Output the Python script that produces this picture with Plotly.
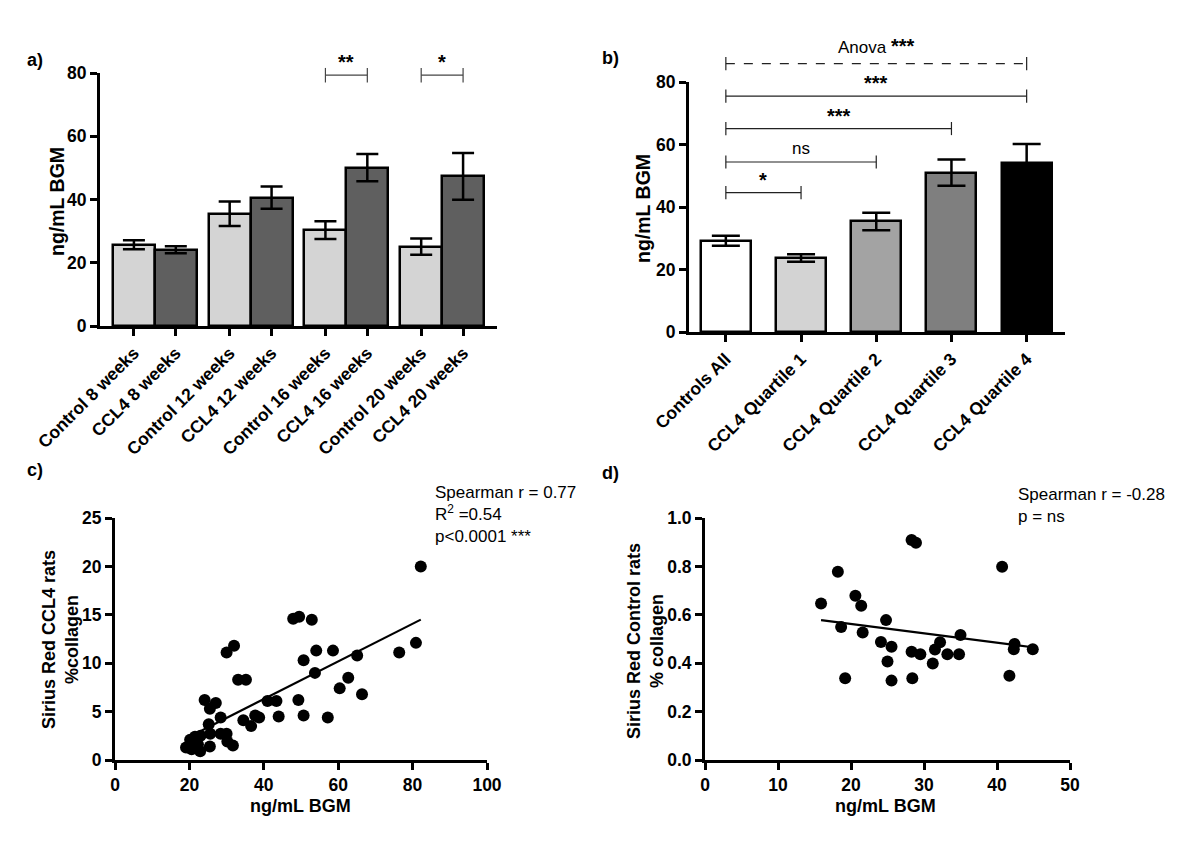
import plotly.graph_objects as go

# ---------------- data ----------------
# Panel a
a_labels = ["Control 8 weeks", "CCL4 8 weeks", "Control 12 weeks", "CCL4 12 weeks",
            "Control 16 weeks", "CCL4 16 weeks", "Control 20 weeks", "CCL4 20 weeks"]
a_means = [25.7, 24.1, 35.5, 40.6, 30.3, 50.1, 25.1, 47.3]
a_sem = [1.4, 1.1, 3.9, 3.5, 2.8, 4.3, 2.6, 7.4]
a_sig = [(4, 5, "**", 79.3), (6, 7, "*", 79.3)]

# Panel b
b_labels = ["Controls All", "CCL4 Quartile 1", "CCL4 Quartile 2", "CCL4 Quartile 3", "CCL4 Quartile 4"]
b_means = [29.2, 23.7, 35.4, 51.0, 54.2]
b_sem = [1.6, 1.2, 2.8, 4.2, 6.0]
b_sig = [(0, 1, "*", 44.6), (0, 2, "ns", 54.4), (0, 3, "***", 65.1), (0, 4, "***", 75.5)]
b_anova = (0, 4, "Anova ***", 85.9)

# Panel c (CCL4 rats)
c_x = [82.2, 80.9, 76.4, 65.1, 66.4, 62.7, 60.4, 58.6, 57.2, 54.1, 53.75, 52.9, 50.7, 50.7,
       49.5, 47.9, 49.3, 44.0, 43.4, 41.0, 38.75, 37.7, 36.6, 34.5, 35.2, 33.1, 32.0, 30.0,
       31.7, 30.2, 30.0, 28.4, 28.4, 27.1, 25.5, 24.1, 25.2, 25.6, 25.5, 23.0, 22.9, 21.7,
       21.1, 20.2, 19.1, 20.6, 21.5, 22.3]
c_y = [20.0, 12.1, 11.1, 10.8, 6.8, 8.5, 7.4, 11.3, 4.4, 11.3, 9.0, 14.5, 10.3, 4.6,
       14.8, 14.6, 6.2, 4.5, 6.1, 6.1, 4.4, 4.6, 3.5, 4.1, 8.3, 8.3, 11.8, 11.1,
       1.5, 1.9, 2.7, 2.7, 4.4, 5.9, 5.3, 6.2, 3.7, 2.7, 1.4, 2.5, 0.9, 1.4,
       1.9, 2.1, 1.3, 1.1, 2.4, 1.6]
c_fit_x = [19.5, 82.2]
c_fit_y = [2.3, 14.5]

# Panel d (Control rats)
d_x = [15.9, 18.2, 18.65, 19.2, 20.6, 21.4, 21.6, 24.1, 24.8, 25.0, 25.55, 25.55, 28.3, 28.9,
       28.3, 29.5, 28.4, 31.2, 31.5, 32.2, 33.2, 34.8, 35.0, 40.7, 41.7, 42.4, 42.3, 44.9]
d_y = [0.647, 0.778, 0.55, 0.338, 0.679, 0.637, 0.527, 0.488, 0.578, 0.407, 0.468, 0.328, 0.909, 0.898,
       0.447, 0.437, 0.338, 0.399, 0.457, 0.487, 0.437, 0.437, 0.517, 0.799, 0.348, 0.479, 0.458, 0.458]
d_fit_x = [15.9, 44.9]
d_fit_y = [0.578, 0.466]

# axis titles
a_ytitle = "ng/mL BGM"
b_ytitle = "ng/mL BGM"
c_xtitle = "ng/mL BGM"
c_ytitle = "Sirius Red CCL4 rats<br>%collagen"
d_xtitle = "ng/mL BGM"
d_ytitle = "Sirius Red Control rats<br>% collagen"

# ---------------- style ----------------
FONT = "Liberation Sans, Arial, sans-serif"
a_colors = ["#d4d4d4", "#5f5f5f"] * 4
b_colors = ["#ffffff", "#d3d3d3", "#a3a3a3", "#7f7f7f", "#000000"]
BAR_W_A = 0.4375
A_YMAX = 80
B_YMAX = 80
W, H = 1200, 850
OFF = 8  # page body margin in the browser

pos_a = [i // 2 + (i % 2 - 0.5) * BAR_W_A for i in range(len(a_labels))]
pos_b = list(range(len(b_labels)))


def px_x(p):
    return (p - OFF) / W


def px_y(p):
    return 1 - (p - OFF) / H


fig = go.Figure()

fig.add_trace(go.Bar(
    x=pos_a, y=a_means, width=BAR_W_A,
    marker=dict(color=a_colors, line=dict(color="black", width=2.5)),
    error_y=dict(type="data", array=a_sem, color="black", thickness=2.5, width=11),
    xaxis="x", yaxis="y", showlegend=False))

fig.add_trace(go.Bar(
    x=pos_b, y=b_means, width=0.665,
    marker=dict(color=b_colors, line=dict(color="black", width=2.5)),
    error_y=dict(type="data", array=b_sem, color="black", thickness=2.5, width=14),
    xaxis="x2", yaxis="y2", showlegend=False))

fig.add_trace(go.Scatter(x=c_x, y=c_y, mode="markers",
                         marker=dict(color="black", size=12), cliponaxis=False,
                         xaxis="x3", yaxis="y3", showlegend=False))
fig.add_trace(go.Scatter(x=c_fit_x, y=c_fit_y, mode="lines",
                         line=dict(color="black", width=2.2),
                         xaxis="x3", yaxis="y3", showlegend=False))

fig.add_trace(go.Scatter(x=d_x, y=d_y, mode="markers",
                         marker=dict(color="black", size=12), cliponaxis=False,
                         xaxis="x4", yaxis="y4", showlegend=False))
fig.add_trace(go.Scatter(x=d_fit_x, y=d_fit_y, mode="lines",
                         line=dict(color="black", width=2.2),
                         xaxis="x4", yaxis="y4", showlegend=False))

shapes = []
annotations = []


def bracket(xr, yr, x0, x1, yv, ymax, text, dash="solid", color="#333333", tick=2.2, offset=1.2,
            fsize=16, bold=True):
    yd = yr + " domain"
    shapes.append(dict(type="line", xref=xr, yref=yd, x0=x0, x1=x1, y0=yv / ymax, y1=yv / ymax,
                       line=dict(color=color, width=1.2, dash=dash)))
    for xv in (x0, x1):
        shapes.append(dict(type="line", xref=xr, yref=yd, x0=xv, x1=xv,
                           y0=(yv - tick) / ymax, y1=(yv + tick) / ymax,
                           line=dict(color=color, width=1.2)))
    annotations.append(dict(xref=xr, yref=yd, x=(x0 + x1) / 2, y=(yv + offset) / ymax,
                            text=text, showarrow=False, yanchor="bottom",
                            font=dict(family=FONT, size=fsize, color="black",
                                      weight="bold" if bold else "normal")))


for i0, i1, t, yv in a_sig:
    bracket("x", "y", pos_a[i0], pos_a[i1], yv, A_YMAX, t, color="#444444", tick=2.3, offset=0.0,
            fsize=20)

for i0, i1, t, yv in b_sig:
    bracket("x2", "y2", pos_b[i0], pos_b[i1], yv, B_YMAX, t, color="#222222", tick=2.1,
            offset=0.0 if t != "ns" else 0.8, fsize=20 if t != "ns" else 17, bold=(t != "ns"))

i0, i1, t, yv = b_anova
shapes.append(dict(type="line", xref="x2", yref="y2 domain", x0=pos_b[i0], x1=pos_b[i1],
                   y0=yv / B_YMAX, y1=yv / B_YMAX, line=dict(color="#222222", width=1.2, dash="dash")))
for xv in (pos_b[i0], pos_b[i1]):
    shapes.append(dict(type="line", xref="x2", yref="y2 domain", x0=xv, x1=xv,
                       y0=(yv - 2.1) / B_YMAX, y1=(yv + 2.1) / B_YMAX,
                       line=dict(color="#222222", width=1.2)))
annotations.append(dict(xref="x2", yref="y2 domain", x=(pos_b[i0] + pos_b[i1]) / 2,
                        y=(yv + 1.4) / B_YMAX, text="Anova <span style='font-size:20px'><b>***</b></span>",
                        showarrow=False, yanchor="bottom", font=dict(family=FONT, size=17, color="black")))

# panel letters
for txt, px, py in [("a)", 25, 60), ("b)", 600, 58), ("c)", 25, 470), ("d)", 600, 473)]:
    annotations.append(dict(xref="paper", yref="paper", x=px_x(px), y=px_y(py), text=txt,
                            showarrow=False, xanchor="left", yanchor="middle",
                            font=dict(family=FONT, size=18, color="black", weight="bold")))

# axis titles placed as text
for txt, px, py, ang, fs in [(a_ytitle, 57, 202, -90, 19.5), (b_ytitle, 643, 209, -90, 19.5),
                             (c_ytitle, 60, 640, -90, 18), (d_ytitle, 645, 641, -90, 18),
                             (c_xtitle, 300, 806, 0, 18), (d_xtitle, 885, 806, 0, 18)]:
    annotations.append(dict(xref="paper", yref="paper", x=px_x(px), y=px_y(py), text=txt,
                            textangle=ang, showarrow=False, xanchor="center", yanchor="middle",
                            font=dict(family=FONT, size=fs, color="black", weight="bold")))

# statistics text
annotations.append(dict(xref="paper", yref="paper", x=px_x(433), y=px_y(481),
                        text="Spearman r = 0.77<br>R<sup>2</sup> =0.54<br>p&lt;0.0001 ***",
                        showarrow=False, xanchor="left", yanchor="top", align="left",
                        font=dict(family=FONT, size=17, color="black")))
annotations.append(dict(xref="paper", yref="paper", x=px_x(1016), y=px_y(483),
                        text="Spearman r = -0.28<br>p = ns",
                        showarrow=False, xanchor="left", yanchor="top", align="left",
                        font=dict(family=FONT, size=17, color="black")))

tickfont = dict(family=FONT, size=17.5, color="black", weight="bold")
common = dict(showline=True, linecolor="black", linewidth=3, ticks="outside", ticklen=7,
              tickwidth=2.5, tickcolor="black", showgrid=False, zeroline=False, tickfont=tickfont,
              automargin=False)


def dx(a, b):
    return [px_x(a), px_x(b)]


def dy(top, bottom):
    return [px_y(bottom), px_y(top)]


fig.update_layout(
    width=W, height=H, margin=dict(l=0, r=0, t=0, b=0),
    paper_bgcolor="white", plot_bgcolor="white", font=dict(family=FONT, color="black"),
    xaxis=dict(domain=dx(100, 497), anchor="y", range=[-0.573, 3.573], tickvals=pos_a,
               ticktext=a_labels, tickangle=-45, **common),
    yaxis=dict(domain=dy(73, 326), anchor="x", range=[0, A_YMAX], tickvals=[0, 20, 40, 60, 80],
               **common),
    xaxis2=dict(domain=dx(689, 1065), anchor="y2", range=[-0.49, 4.51], tickvals=pos_b,
                ticktext=b_labels, tickangle=-45, **common),
    yaxis2=dict(domain=dy(82, 332), anchor="x2", range=[0, B_YMAX], tickvals=[0, 20, 40, 60, 80],
                **common),
    xaxis3=dict(domain=dx(115, 487), anchor="y3", range=[0, 100], tickvals=[0, 20, 40, 60, 80, 100],
                **common),
    yaxis3=dict(domain=dy(518, 760), anchor="x3", range=[0, 25], tickvals=[0, 5, 10, 15, 20, 25],
                **common),
    xaxis4=dict(domain=dx(705, 1070), anchor="y4", range=[0, 50], tickvals=[0, 10, 20, 30, 40, 50],
                **common),
    yaxis4=dict(domain=dy(518, 760), anchor="x4", range=[0, 1], tickvals=[0, 0.2, 0.4, 0.6, 0.8, 1.0],
                tickformat=".1f", **common),
    shapes=shapes, annotations=annotations, bargap=0,
)

fig.write_html("out.html")
